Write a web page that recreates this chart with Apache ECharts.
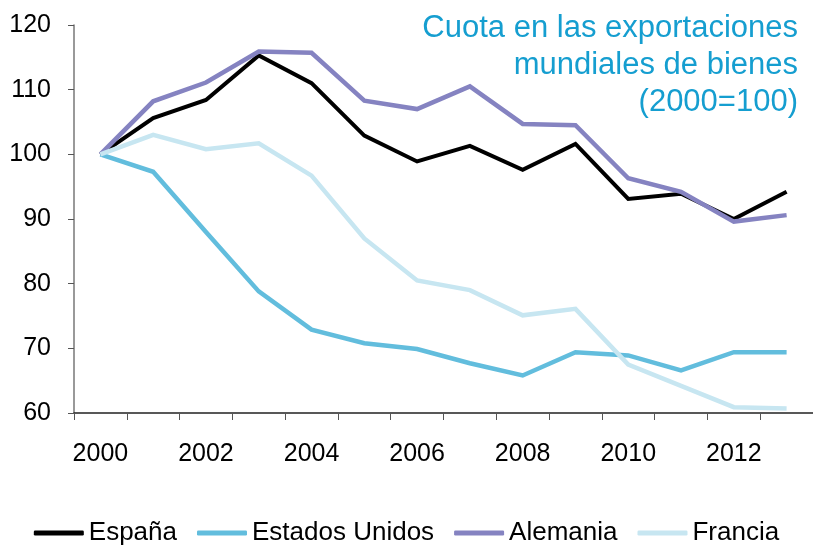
<!DOCTYPE html>
<html lang="es">
<head>
<meta charset="UTF-8">
<title>Cuota en las exportaciones</title>
<script src="https://cdn.jsdelivr.net/npm/echarts@6/dist/echarts.min.js"></script>
<style>
  body { margin: 0; background: #fff; }
  #chart { width: 813px; height: 545px; }
</style>
</head>
<body>
<div id="chart"></div>
<script>
  var years = ['2000', '2001', '2002', '2003', '2004', '2005', '2006', '2007', '2008', '2009', '2010', '2011', '2012', '2013'];
  var espana = [100, 105.6, 108.4, 115.3, 111.0, 102.9, 98.9, 101.3, 97.6, 101.6, 93.1, 93.9, 90.0, 94.2];
  var eeuu = [100, 97.3, 88.0, 78.8, 72.9, 70.8, 69.9, 67.7, 65.8, 69.4, 68.9, 66.6, 69.4, 69.4];
  var alemania = [100, 108.2, 111.1, 115.9, 115.7, 108.3, 107.0, 110.5, 104.7, 104.5, 96.3, 94.2, 89.6, 90.6];
  var francia = [100, 103.0, 100.8, 101.7, 96.7, 87.0, 80.5, 79.0, 75.1, 76.1, 67.5, 64.2, 60.9, 60.7];

  var font = 'Liberation Sans, Arial, sans-serif';

  function serie(name, data, color, width) {
    return {
      name: name,
      type: 'line',
      data: data,
      symbol: 'none',
      itemStyle: { color: color },
      lineStyle: { color: color, width: width, join: 'miter' }
    };
  }

  var myChart = echarts.init(document.getElementById('chart'));
  option = {
    animation: false,
    graphic: [{
      type: 'text',
      x: 798,
      y: 10,
      style: {
        text: 'Cuota en las exportaciones\nmundiales de bienes\n(2000=100)',
        textAlign: 'right',
        textVerticalAlign: 'top',
        fill: '#159ED0',
        font: '31px Liberation Sans, Arial, sans-serif',
        lineHeight: 37
      }
    }],
    legend: {
      bottom: -6,
      left: 'center',
      icon: 'roundRect',
      itemWidth: 50,
      itemHeight: 5,
      itemGap: 20,
      textStyle: { fontFamily: font, fontSize: 26, color: '#000' },
      data: ['España', 'Estados Unidos', 'Alemania', 'Francia']
    },
    grid: { left: 74, top: 25, width: 742, height: 388 },
    xAxis: {
      type: 'category',
      data: years,
      boundaryGap: true,
      axisLine: { lineStyle: { color: '#222', width: 1.5 } },
      axisTick: { show: true, interval: 0, length: 7, lineStyle: { color: '#555' } },
      axisLabel: { interval: 1, margin: 29, fontFamily: font, fontSize: 25, color: '#000' }
    },
    yAxis: {
      type: 'value',
      min: 60,
      max: 120,
      interval: 10,
      splitLine: { show: false },
      axisLine: { show: true, lineStyle: { color: '#777', width: 1.5 } },
      axisTick: { show: true, length: 6, lineStyle: { color: '#555' } },
      axisLabel: { margin: 23, fontFamily: font, fontSize: 25, color: '#000' }
    },
    series: [
      serie('España', espana, '#000000', 4),
      serie('Estados Unidos', eeuu, '#62BDDD', 4.5),
      serie('Alemania', alemania, '#8583C1', 4.5),
      serie('Francia', francia, '#C7E6F1', 4.5)
    ]
  };
  myChart.setOption(option);
</script>
</body>
</html>
